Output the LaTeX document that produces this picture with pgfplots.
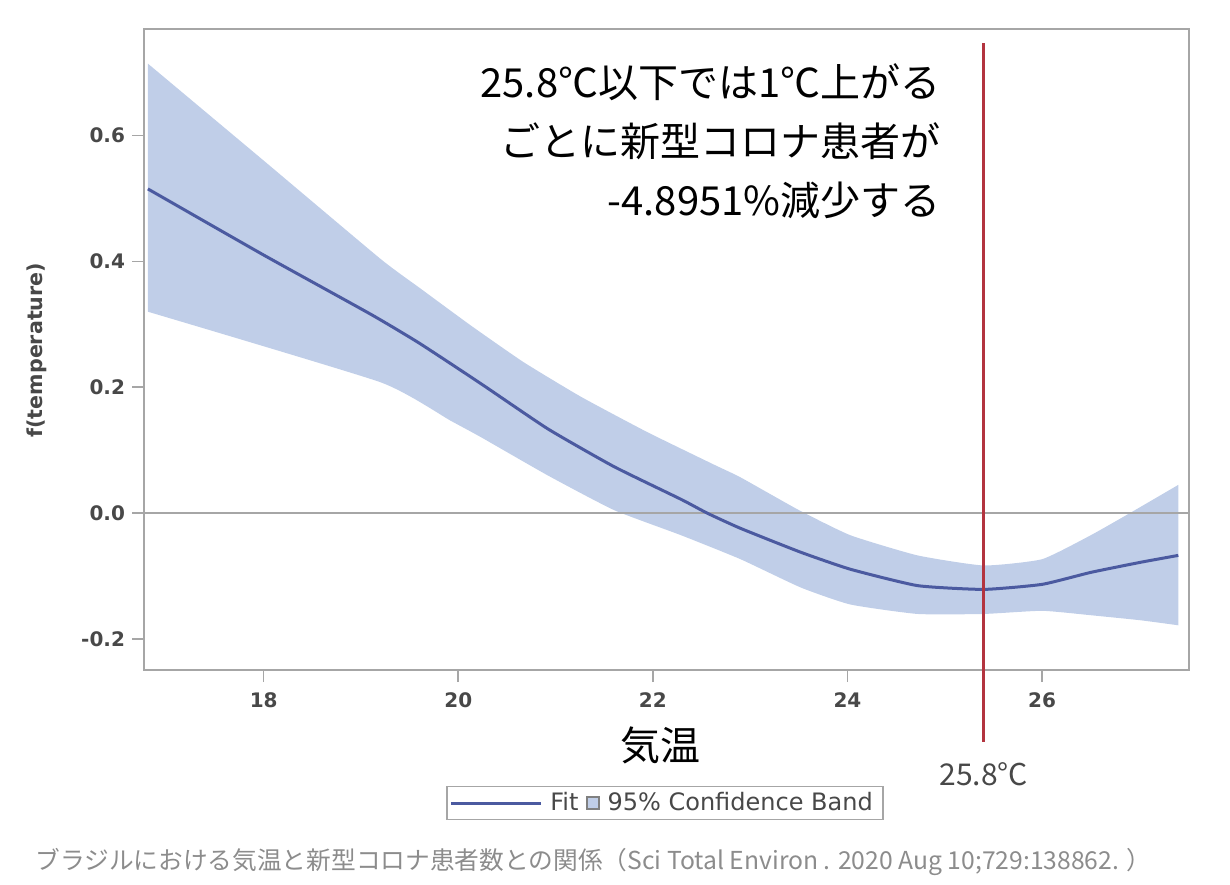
\documentclass[border=0pt]{standalone}
\usepackage{fontspec}
\setmainfont{DejaVu Sans}
\newfontfamily\jp{Noto Sans CJK JP}
\usepackage{pgfplots}
\pgfplotsset{compat=1.18}
\usepgfplotslibrary{fillbetween}
\definecolor{band}{HTML}{C0CEE8}
\definecolor{fitc}{HTML}{4B5AA0}
\definecolor{redl}{HTML}{B3343F}
\definecolor{framec}{HTML}{A6A6A6}
\definecolor{txt}{HTML}{484848}
\definecolor{capc}{HTML}{8C8C8C}
\begin{document}
\begin{tikzpicture}
\begin{axis}[
  at={(72pt,107pt)}, anchor=south west,
  scale only axis, width=522.5pt, height=320.5pt,
  xmin=16.77, xmax=27.51, ymin=-0.249, ymax=0.769,
  xtick={18,20,22,24,26}, ytick={-0.2,0,0.2,0.4,0.6},
  yticklabel style={/pgf/number format/.cd, fixed, fixed zerofill, precision=1},
  xticklabel style={yshift=-2pt},
  /pgf/number format/assume math mode=true,
  tick align=outside, xtick pos=bottom, ytick pos=left,
  major tick length=6pt,
  tick style={framec, line width=0.8pt},
  axis line style={framec, line width=1pt},
  ticklabel style={font=\bfseries\fontsize{10}{12}\selectfont, text=txt},
  ylabel={f(temperature)},
  ylabel style={at={(axis description cs:-0.1024,0.499)}, anchor=center, font=\bfseries\fontsize{10.3}{12}\selectfont, text=txt},
  clip=false,
  legend style={at={(axis description cs:0.4986,-0.2075)}, anchor=center, draw=framec, line width=0.8pt,
    font=\fontsize{12}{14}\selectfont, text=txt, legend columns=2,
    inner xsep=1pt, inner ysep=1pt,
    nodes={inner xsep=4pt, inner ysep=2pt},
    /tikz/every even column/.append style={column sep=0pt}},
]
\addplot[name path=up, draw=none, forget plot, smooth, tension=0.3] coordinates {
(16.81,0.714) (18.0,0.56) (19.2,0.404) (19.61,0.357) (20.13,0.298) (20.67,0.24)
(21.26,0.185) (21.94,0.129) (22.63,0.077) (22.90,0.057) (23.5,0.005) (24.03,-0.035)
(24.72,-0.067) (25.40,-0.083) (26.0,-0.073) (26.5,-0.035) (26.9,0.0) (27.40,0.045)};
\addplot[name path=lo, draw=none, forget plot, smooth, tension=0.3] coordinates {
(16.81,0.320) (19.2,0.208) (19.92,0.147) (20.23,0.121) (20.92,0.06) (21.60,0.005)
(22.29,-0.035) (22.90,-0.073) (23.52,-0.118) (24.03,-0.145) (24.72,-0.16) (25.40,-0.16)
(26.0,-0.155) (26.5,-0.162) (27.01,-0.17) (27.40,-0.178)};
\addplot[fill=band, draw=none, forget plot] fill between[of=up and lo];
\addplot[framec, line width=1pt, forget plot] coordinates {(16.77,0) (27.51,0)};
\addplot[fitc, line width=1.5pt, smooth, tension=0.3,
  legend image code/.code={\draw[fitc, line width=1.5pt] (0pt,0pt) -- (45pt,0pt);}] coordinates {
(16.81,0.515) (18.0,0.41) (19.1,0.316) (19.6,0.27) (20.23,0.206) (20.92,0.134)
(21.60,0.074) (22.29,0.022) (22.56,0.0) (22.90,-0.024) (23.52,-0.062) (24.03,-0.089)
(24.72,-0.115) (25.40,-0.121) (26.0,-0.113) (26.5,-0.094) (27.01,-0.078) (27.40,-0.067)};
\addlegendentry{Fit}
\addlegendimage{legend image code/.code={\draw[fill=band, draw=gray, line width=0.6pt] (0pt,-3pt) rectangle (6pt,3pt);}}
\addlegendentry{95\% Confidence Band}
\draw[redl, line width=1.5pt] (axis cs:25.4,0.746) -- (axis cs:25.4,-0.364);
\node[anchor=east, align=right, inner xsep=0pt, font=\jp\fontsize{20}{29.5}\selectfont, text=black] at (axis cs:24.96,0.591)
  {25.8℃以下では1℃上がる\\ごとに新型コロナ患者が\\-4.8951\%減少する};
\node[font=\jp\fontsize{20}{24}\selectfont, text=black] at (axis description cs:0.494,-0.117) {気温};
\node[font=\jp\fontsize{15}{18}\selectfont, text=txt] at (axis cs:25.4,-0.4146) {25.8°C};
\end{axis}
\node[anchor=west, inner sep=0pt, font=\jp\fontsize{12.35}{14}\selectfont, text=capc] at (17.5pt,11pt)
  {ブラジルにおける気温と新型コロナ患者数との関係（Sci Total Environ . 2020 Aug 10;729:138862. ）};
\pgfresetboundingbox
\path[use as bounding box] (0,0) rectangle (615pt,442pt);
\end{tikzpicture}
\end{document}
